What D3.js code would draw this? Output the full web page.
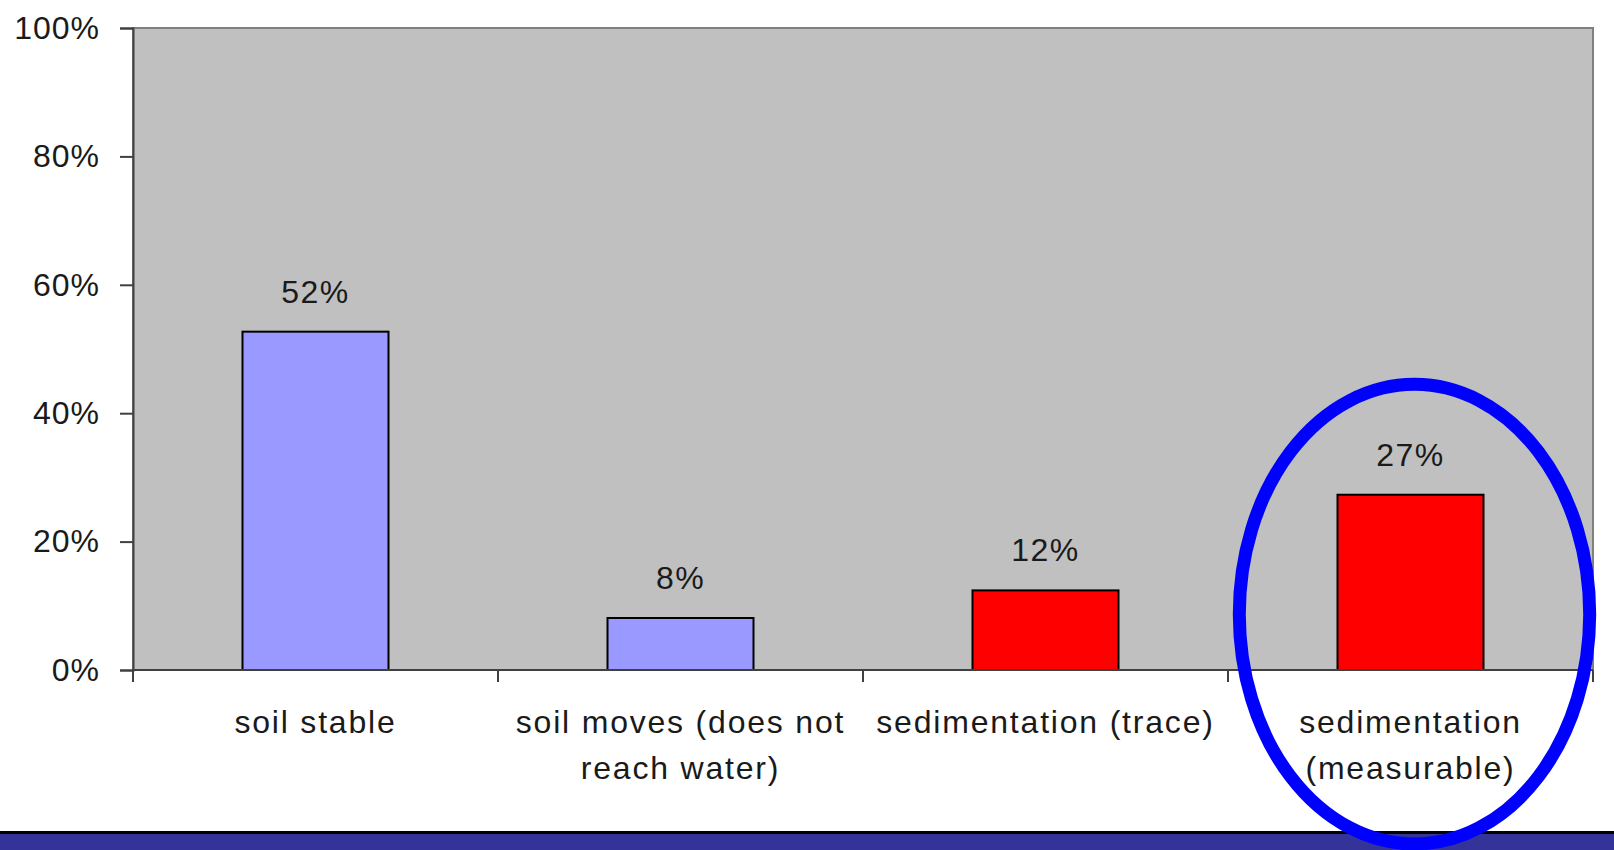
<!DOCTYPE html>
<meta charset="utf-8">
<script src="https://d3js.org/d3.v7.min.js"></script>
<style>
  body { margin: 0; background: #fff; }
  text { font-family: "Liberation Sans", Arial, sans-serif; fill: #1a1a1a; }
</style>
<div id="chart"></div>
<script>
  // categories, values and label text
  var categories = ["soil stable", "soil moves", "sedimentation trace", "sedimentation measurable"];
  var values = [0.527, 0.081, 0.124, 0.273];
  var valueLabels = ["52%", "8%", "12%", "27%"];
  var barColors = ["#9999ff", "#9999ff", "#ff0000", "#ff0000"];
  var catLines = [
    ["soil stable"],
    ["soil moves (does not", "reach water)"],
    ["sedimentation (trace)"],
    ["sedimentation", "(measurable)"]
  ];
  var yTicks = [0, 0.2, 0.4, 0.6, 0.8, 1];

  var W = 1614, H = 850;
  var margin = {top: 28, right: 21, bottom: 180, left: 133};
  var width = W - margin.left - margin.right,
      height = H - margin.top - margin.bottom;

  var svg = d3.select("#chart").append("svg")
      .attr("width", W).attr("height", H);

  // bottom slide band
  svg.append("rect").attr("x", 0).attr("y", 831).attr("width", W).attr("height", 3).attr("fill", "#000");
  svg.append("rect").attr("x", 0).attr("y", 834).attr("width", W).attr("height", H - 834).attr("fill", "#333399");

  var g = svg.append("g")
      .attr("transform", "translate(" + margin.left + "," + margin.top + ")");

  var x = d3.scaleBand().domain(categories).range([0, width]).padding(0);
  var y = d3.scaleLinear().domain([0, 1]).range([height, 0]);
  var barW = x.bandwidth() / 2.5;

  // plot area
  g.append("rect")
    .attr("x", 0).attr("y", 0).attr("width", width).attr("height", height)
    .attr("fill", "#c0c0c0").attr("stroke", "#808080").attr("stroke-width", 2);

  // bars
  g.selectAll(".bar").data(categories).enter().append("rect")
    .attr("x", function(d) { return x(d) + (x.bandwidth() - barW) / 2; })
    .attr("y", function(d, i) { return y(values[i]); })
    .attr("width", barW)
    .attr("height", function(d, i) { return height - y(values[i]); })
    .attr("fill", function(d, i) { return barColors[i]; })
    .attr("stroke", "#000").attr("stroke-width", 2);

  // value labels
  g.selectAll(".val").data(categories).enter().append("text")
    .attr("x", function(d) { return x(d) + x.bandwidth() / 2; })
    .attr("y", function(d, i) { return y(values[i]) - 29; })
    .attr("text-anchor", "middle")
    .style("font-size", "32px").style("letter-spacing", "1.5px")
    .text(function(d, i) { return valueLabels[i]; });

  // y axis
  var yAxis = g.append("g")
    .call(d3.axisLeft(y).tickValues(yTicks).tickFormat(d3.format(".0%")).tickSize(13).tickPadding(20));
  yAxis.select(".domain").attr("stroke", "#404040").attr("stroke-width", 2);
  yAxis.selectAll(".tick line").attr("stroke", "#404040").attr("stroke-width", 2);
  yAxis.selectAll(".tick text")
    .style("font-size", "32px").style("letter-spacing", "1px")
    .attr("fill", "#1a1a1a").attr("font-family", null);

  // x axis line and ticks between categories
  var bounds = categories.map(function(d) { return x(d); }).concat([x.range()[1]]);
  g.append("line")
    .attr("x1", 0).attr("x2", width).attr("y1", height).attr("y2", height)
    .attr("stroke", "#404040").attr("stroke-width", 2);
  g.selectAll(".xtick").data(bounds).enter().append("line")
    .attr("x1", function(d) { return d; }).attr("x2", function(d) { return d; })
    .attr("y1", height).attr("y2", height + 12)
    .attr("stroke", "#404040").attr("stroke-width", 2);

  // category labels
  var cat = g.selectAll(".cat").data(categories).enter().append("text")
    .attr("text-anchor", "middle")
    .attr("transform", function(d) { return "translate(" + (x(d) + x.bandwidth() / 2) + "," + (height + 63) + ")"; })
    .style("font-size", "32px").style("letter-spacing", "1.8px");
  cat.selectAll("tspan").data(function(d, i) { return catLines[i]; }).enter().append("tspan")
    .attr("x", 0).attr("dy", function(d, i) { return i === 0 ? 0 : 46; })
    .text(function(d) { return d; });

  // highlight ellipse around the last category (data units), drawn over everything
  var last = categories[3];
  var ellTop = 0.445, ellBottom = -0.271;
  g.append("ellipse")
    .attr("cx", x(last) + x.bandwidth() / 2 + 4)
    .attr("cy", (y(ellTop) + y(ellBottom)) / 2)
    .attr("rx", x.bandwidth() * 0.48)
    .attr("ry", (y(ellBottom) - y(ellTop)) / 2)
    .attr("fill", "none").attr("stroke", "#0000ff").attr("stroke-width", 13);
</script>
